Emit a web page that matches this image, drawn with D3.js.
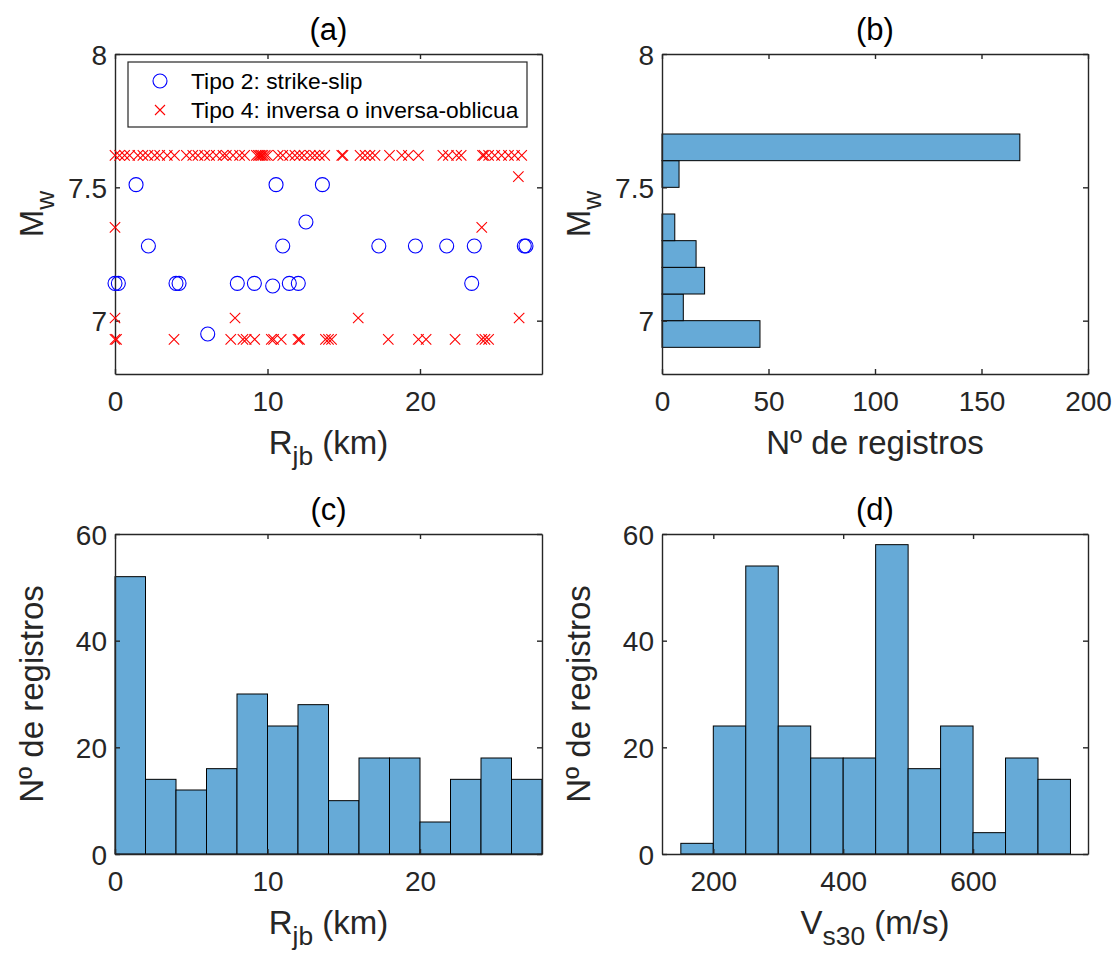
<!DOCTYPE html>
<html>
<head>
<meta charset="utf-8">
<script src="https://cdn.jsdelivr.net/npm/d3@7"></script>
<style>
  body { margin: 0; background: #ffffff; }
  svg { display: block; }
</style>
</head>
<body>
<svg id="fig" width="1116" height="955"></svg>
<script>
// ---------- data ----------
// (a) Mw vs Rjb scatter, grouped by mechanism
const strikeSlipR = [1.38, 10.56, 13.6, 12.52, 2.19, 11.0, 17.3, 19.7, 21.75, 23.56, 26.84, 26.95,
                     0, 0.22, 4.0, 4.2, 8.02, 9.14, 11.43, 12.02, 23.39, 10.34, 6.08];
const strikeSlipMw = [7.51, 7.51, 7.51, 7.37, 7.28, 7.28, 7.28, 7.28, 7.28, 7.28, 7.28, 7.28,
                      7.14, 7.14, 7.14, 7.14, 7.14, 7.14, 7.14, 7.14, 7.14, 7.13, 6.95];

const reverseR = [
  // Mw 7.62
  0, 0.3, 0.63, 0.96, 1.5, 1.83, 2.16, 2.6, 2.93, 3.43, 3.9, 4.68, 5.1, 5.44, 5.88, 6.2, 6.64,
  7.08, 7.3, 7.74, 8.17, 8.5, 9.27, 9.4, 9.5, 9.6, 9.7, 9.85, 10.0, 10.7, 11.0, 11.45, 11.8,
  12.1, 12.4, 12.8, 13.1, 13.4, 13.75, 14.87, 14.95, 16.07, 16.4, 16.72, 17.05, 18.0, 18.8,
  19.24, 19.9, 21.5, 21.86, 22.4, 22.7, 24.1, 24.2, 24.5, 24.9, 25.35, 25.8, 26.2, 26.67,
  // Mw 7.54
  26.45,
  // Mw 7.35
  0, 24.05,
  // Mw 7.01
  0, 7.87, 15.95, 26.5,
  // Mw 6.93
  0, 0.1, 3.87, 7.59, 8.39, 8.6, 9.16, 10.25, 10.4, 10.9, 12.0, 12.1, 13.8, 14.0, 14.2,
  17.92, 19.9, 20.4, 22.3, 24.05, 24.26, 24.5
];
const reverseMw = [
  7.62, 7.62, 7.62, 7.62, 7.62, 7.62, 7.62, 7.62, 7.62, 7.62, 7.62, 7.62, 7.62, 7.62, 7.62, 7.62, 7.62,
  7.62, 7.62, 7.62, 7.62, 7.62, 7.62, 7.62, 7.62, 7.62, 7.62, 7.62, 7.62, 7.62, 7.62, 7.62, 7.62,
  7.62, 7.62, 7.62, 7.62, 7.62, 7.62, 7.62, 7.62, 7.62, 7.62, 7.62, 7.62, 7.62, 7.62,
  7.62, 7.62, 7.62, 7.62, 7.62, 7.62, 7.62, 7.62, 7.62, 7.62, 7.62, 7.62, 7.62, 7.62,
  7.54,
  7.35, 7.35,
  7.01, 7.01, 7.01, 7.01,
  6.93, 6.93, 6.93, 6.93, 6.93, 6.93, 6.93, 6.93, 6.93, 6.93, 6.93, 6.93, 6.93, 6.93, 6.93,
  6.93, 6.93, 6.93, 6.93, 6.93, 6.93, 6.93
];

// (b) Mw histogram (horizontal)
const mwEdges  = [6.9, 7.0, 7.1, 7.2, 7.3, 7.4, 7.5, 7.6, 7.7];
const mwCounts = [46, 10, 20, 16, 6, 0, 8, 168];

// (c) Rjb histogram
const rjbEdges  = [0, 2, 4, 6, 8, 10, 12, 14, 16, 18, 20, 22, 24, 26, 28];
const rjbCounts = [52, 14, 12, 16, 30, 24, 28, 10, 18, 18, 6, 14, 18, 14];

// (d) Vs30 histogram
const vsEdges  = [150, 200, 250, 300, 350, 400, 450, 500, 550, 600, 650, 700, 750];
const vsCounts = [2, 24, 54, 24, 18, 18, 58, 16, 24, 4, 18, 14];

// tick values
const mwTicks    = [7, 7.5, 8];
const rjbTicks   = [0, 10, 20];
const countTicks = [0, 50, 100, 150, 200];
const freqTicks  = [0, 20, 40, 60];
const vsTicks    = [200, 400, 600];

const panelTitles = ["(a)", "(b)", "(c)", "(d)"];
const legendLabels = ["Tipo 2: strike-slip", "Tipo 4: inversa o inversa-oblicua"];

// ---------- style ----------
const FONT = '"Liberation Sans", Arial, Helvetica, sans-serif';
const INK = "#262626";
const BAR_FILL = "rgb(102,170,215)";
const TICK_FS = 28, LABEL_FS = 33, TITLE_FS = 31, LEGEND_FS = 22.8;
const TICK_GAP = 37, LABEL_GAP = 80;

const svg = d3.select("#fig").style("font-family", FONT);

const boxes = {
  a: { x0: 115, y0: 54,  x1: 542,  y1: 374 },
  b: { x0: 662, y0: 54,  x1: 1088, y1: 374 },
  c: { x0: 115, y0: 534, x1: 542,  y1: 854 },
  d: { x0: 662, y0: 534, x1: 1088, y1: 854 }
};

// Draws the four-sided box with inward ticks, labels on bottom and left
function frame(b, xs, ys, xt, yt) {
  const g = svg.append("g");
  const style = sel => {
    sel.select(".domain").attr("stroke", INK).attr("stroke-width", 1.4);
    sel.selectAll(".tick line").attr("stroke", INK).attr("stroke-width", 1.4);
    sel.selectAll("text").attr("fill", INK).style("font-family", FONT).attr("font-size", TICK_FS);
  };
  const bottom = g.append("g").attr("transform", `translate(0,${b.y1})`)
    .call(d3.axisBottom(xs).tickValues(xt).tickSize(-5).tickSizeOuter(0).tickFormat(d => d))
    .call(style);
  bottom.selectAll("text").attr("y", TICK_GAP).attr("dy", null);
  g.append("g").attr("transform", `translate(0,${b.y0})`)
    .call(d3.axisTop(xs).tickValues(xt).tickSize(-5).tickSizeOuter(0).tickFormat(() => ""))
    .call(style);
  const left = g.append("g").attr("transform", `translate(${b.x0},0)`)
    .call(d3.axisLeft(ys).tickValues(yt).tickSize(-5).tickSizeOuter(0).tickFormat(d => d))
    .call(style);
  left.selectAll("text").attr("x", -8).attr("dy", "0.36em");
  g.append("g").attr("transform", `translate(${b.x1},0)`)
    .call(d3.axisRight(ys).tickValues(yt).tickSize(-5).tickSizeOuter(0).tickFormat(() => ""))
    .call(style);
  g.selectAll(".domain").attr("fill", "none");
  return g;
}

function title(b, txt) {
  svg.append("text").attr("x", (b.x0 + b.x1) / 2).attr("y", b.y0 - 14)
    .attr("text-anchor", "middle").attr("font-size", TITLE_FS).attr("fill", "#000").text(txt);
}

// axis label with optional subscript: parts = [[text, isSub], ...]
function label(x, y, parts, rotate) {
  const t = svg.append("text").attr("font-size", LABEL_FS).attr("fill", INK)
    .attr("text-anchor", "middle")
    .attr("transform", `translate(${x},${y})` + (rotate ? " rotate(-90)" : ""));
  let shifted = false;
  parts.forEach(([s, sub]) => {
    const sp = t.append("tspan").text(s);
    if (sub && !shifted) { sp.attr("dy", 11).attr("font-size", LABEL_FS * 0.8); shifted = true; }
    else if (!sub && shifted) { sp.attr("dy", -11); shifted = false; }
  });
  return t;
}

function xMarker(sel, size) {
  return sel.append("path").attr("d", `M${-size},${-size}L${size},${size}M${-size},${size}L${size},${-size}`);
}

// ---------- (a) scatter ----------
{
  const b = boxes.a;
  const x = d3.scaleLinear().domain([0, 28]).range([b.x0, b.x1]);
  const y = d3.scaleLinear().domain([6.8, 8]).range([b.y1, b.y0]);
  frame(b, x, y, rjbTicks, mwTicks);

  svg.append("g").selectAll("circle").data(d3.range(strikeSlipR.length)).join("circle")
    .attr("cx", i => x(strikeSlipR[i])).attr("cy", i => y(strikeSlipMw[i]))
    .attr("r", 7).attr("fill", "none").attr("stroke", "#0000ff").attr("stroke-width", 1.1);

  svg.append("g").selectAll("g").data(d3.range(reverseR.length)).join("g")
    .attr("transform", i => `translate(${x(reverseR[i])},${y(reverseMw[i])})`)
    .call(sel => xMarker(sel, 5.2).attr("stroke", "#ff0000").attr("stroke-width", 1.1).attr("fill", "none"));

  // legend
  const lg = svg.append("g");
  lg.append("rect").attr("x", 128).attr("y", 62).attr("width", 399).attr("height", 65)
    .attr("fill", "#fff").attr("stroke", INK).attr("stroke-width", 1.2);
  lg.append("circle").attr("cx", 160).attr("cy", 81).attr("r", 7)
    .attr("fill", "none").attr("stroke", "#0000ff").attr("stroke-width", 1.1);
  lg.append("g").attr("transform", "translate(160,110)")
    .call(sel => xMarker(sel, 5).attr("stroke", "#ff0000").attr("stroke-width", 1.1));
  legendLabels.forEach((s, i) => {
    lg.append("text").attr("x", 191).attr("y", 81 + i * 29).attr("dy", "0.35em")
      .attr("font-size", LEGEND_FS).attr("fill", "#000").text(s);
  });

  title(b, panelTitles[0]);
  label((b.x0 + b.x1) / 2, b.y1 + LABEL_GAP, [["R", false], ["jb", true], [" (km)", false]], false);
  label(43, (b.y0 + b.y1) / 2, [["M", false], ["w", true]], true);
}

// ---------- (b) horizontal histogram ----------
{
  const b = boxes.b;
  const x = d3.scaleLinear().domain([0, 200]).range([b.x0, b.x1]);
  const y = d3.scaleLinear().domain([6.8, 8]).range([b.y1, b.y0]);
  svg.append("g").selectAll("rect").data(d3.range(mwCounts.length).filter(i => mwCounts[i] > 0)).join("rect")
    .attr("x", x(0)).attr("y", i => y(mwEdges[i + 1]))
    .attr("width", i => x(mwCounts[i]) - x(0)).attr("height", i => y(mwEdges[i]) - y(mwEdges[i + 1]))
    .attr("fill", BAR_FILL).attr("stroke", "#000").attr("stroke-width", 1);
  frame(b, x, y, countTicks, mwTicks);
  title(b, panelTitles[1]);
  label((b.x0 + b.x1) / 2, b.y1 + LABEL_GAP, [["Nº de registros", false]], false);
  label(590, (b.y0 + b.y1) / 2, [["M", false], ["w", true]], true);
}

// ---------- (c) Rjb histogram ----------
{
  const b = boxes.c;
  const x = d3.scaleLinear().domain([0, 28]).range([b.x0, b.x1]);
  const y = d3.scaleLinear().domain([0, 60]).range([b.y1, b.y0]);
  svg.append("g").selectAll("rect").data(d3.range(rjbCounts.length)).join("rect")
    .attr("x", i => x(rjbEdges[i])).attr("y", i => y(rjbCounts[i]))
    .attr("width", i => x(rjbEdges[i + 1]) - x(rjbEdges[i])).attr("height", i => y(0) - y(rjbCounts[i]))
    .attr("fill", BAR_FILL).attr("stroke", "#000").attr("stroke-width", 1);
  frame(b, x, y, rjbTicks, freqTicks);
  title(b, panelTitles[2]);
  label((b.x0 + b.x1) / 2, b.y1 + LABEL_GAP, [["R", false], ["jb", true], [" (km)", false]], false);
  label(43, (b.y0 + b.y1) / 2, [["Nº de registros", false]], true);
}

// ---------- (d) Vs30 histogram ----------
{
  const b = boxes.d;
  const x = d3.scaleLinear().domain([121, 777]).range([b.x0, b.x1]);
  const y = d3.scaleLinear().domain([0, 60]).range([b.y1, b.y0]);
  svg.append("g").selectAll("rect").data(d3.range(vsCounts.length)).join("rect")
    .attr("x", i => x(vsEdges[i])).attr("y", i => y(vsCounts[i]))
    .attr("width", i => x(vsEdges[i + 1]) - x(vsEdges[i])).attr("height", i => y(0) - y(vsCounts[i]))
    .attr("fill", BAR_FILL).attr("stroke", "#000").attr("stroke-width", 1);
  frame(b, x, y, vsTicks, freqTicks);
  title(b, panelTitles[3]);
  label((b.x0 + b.x1) / 2, b.y1 + LABEL_GAP, [["V", false], ["s30", true], [" (m/s)", false]], false);
  label(590, (b.y0 + b.y1) / 2, [["Nº de registros", false]], true);
}
</script>
</body>
</html>
